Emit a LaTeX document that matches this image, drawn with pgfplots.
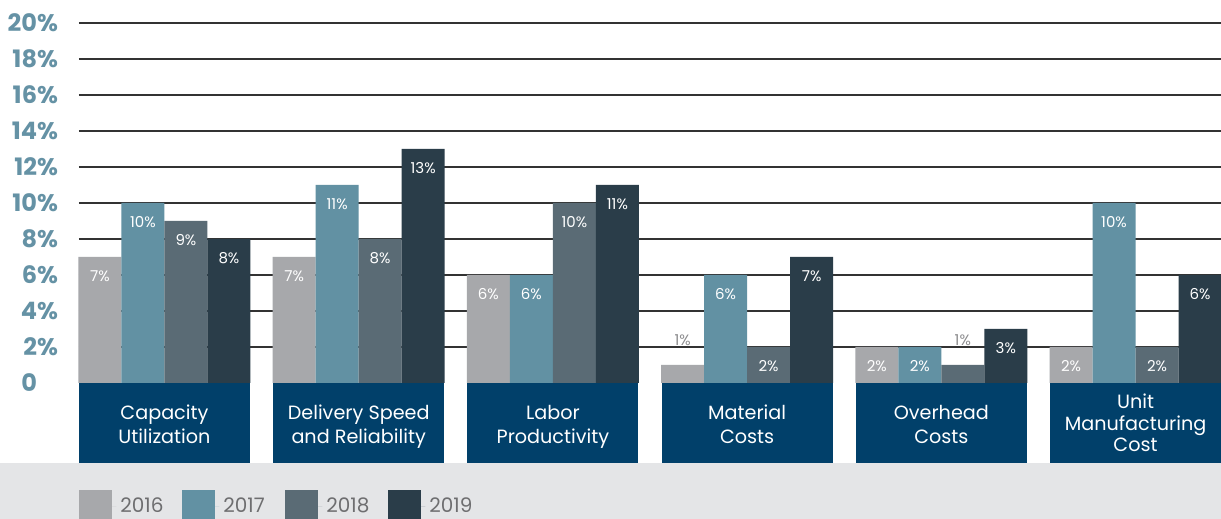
\documentclass[border=0pt]{standalone}
\usepackage{pgfplots}
\pgfplotsset{compat=1.18}
\usepackage{fontspec}
\setmainfont{Poppins}
\definecolor{cA}{RGB}{167,168,171}
\definecolor{cB}{RGB}{98,145,163}
\definecolor{cC}{RGB}{90,107,117}
\definecolor{cD}{RGB}{42,61,73}
\definecolor{navy}{RGB}{1,64,106}
\definecolor{tickcol}{RGB}{101,146,165}
\definecolor{legbg}{RGB}{228,229,231}
\definecolor{legtext}{RGB}{110,110,112}
\definecolor{smalllab}{RGB}{140,140,142}
\pgfplotsset{
  sqlegend/.style={legend image code/.code={\fill[##1] (0pt,-8.25pt) rectangle (16.5pt,8.25pt); \path (0pt,0pt) -- (18.5pt,0pt);}},
  mybar/.style={ybar, bar width=0.2214, draw=none, sqlegend,
    nodes near coords, point meta=explicit symbolic,
    every node near coord/.append style={font=\fontsize{7.5}{8}\selectfont, text=white, anchor=center, yshift=-9.5pt, xshift=#1}},
  smallbar/.style={ybar, bar width=0.2214, draw=none, fill=none, forget plot,
    nodes near coords, point meta=explicit symbolic,
    every node near coord/.append style={font=\fontsize{7.5}{8}\selectfont, text=smalllab, anchor=center, yshift=12.5pt, xshift=#1}}
}
\begin{document}
\begin{tikzpicture}
\useasboundingbox (0,0) rectangle (610.5pt,259.5pt);
\fill[white] (0,0) rectangle (610.5pt,259.5pt);
\fill[legbg] (0,0) rectangle (610.5pt,28pt);
\begin{axis}[
  at={(39.5pt,68pt)}, anchor=south west,
  scale only axis, width=571pt, height=180pt,
  xmin=-0.44, xmax=5.44, ymin=0, ymax=20,
  axis line style={draw=none},
  xtick=\empty,
  ytick={2,4,...,20},
  yticklabel={\pgfmathprintnumber[assume math mode=true]{\tick}\%},
  extra y ticks={0}, extra y tick labels={0\phantom{\%}},
  extra y tick style={grid=none},
  major tick length=0pt,
  ymajorgrids,
  grid style={black!80, line width=0.6pt},
  yticklabel style={font=\fontsize{12}{12}\selectfont\bfseries, text=tickcol, anchor=east, xshift=-7pt},
  clip=false,
  legend style={at={(0,-0.344)}, anchor=west, draw=none, fill=none, inner sep=0pt,
    font=\fontsize{10}{10}\selectfont, text=legtext,
    /tikz/every even column/.append style={column sep=5.0pt}},
  legend columns=4, legend cell align=left,
]
\addplot[mybar=-32.25pt, bar shift=-0.3321, fill=cA] coordinates {(0,7)[7\%] (1,7)[7\%] (2,6)[6\%] (3,1)[] (4,2)[2\%] (5,2)[2\%]};
\addlegendentry{\makebox[24pt][l]{2016}}
\addplot[mybar=-10.75pt, bar shift=-0.1107, fill=cB] coordinates {(0,10)[10\%] (1,11)[11\%] (2,6)[6\%] (3,6)[6\%] (4,2)[2\%] (5,10)[10\%]};
\addlegendentry{\makebox[24pt][l]{2017}}
\addplot[mybar=10.75pt, bar shift=0.1107, fill=cC] coordinates {(0,9)[9\%] (1,8)[8\%] (2,10)[10\%] (3,2)[2\%] (4,1)[] (5,2)[2\%]};
\addlegendentry{\makebox[24pt][l]{2018}}
\addplot[mybar=32.25pt, bar shift=0.3321, fill=cD] coordinates {(0,8)[8\%] (1,13)[13\%] (2,11)[11\%] (3,7)[7\%] (4,3)[3\%] (5,6)[6\%]};
\addlegendentry{\makebox[24pt][l]{2019}}
\addplot[smallbar=-32.25pt, bar shift=-0.3321] coordinates {(3,1)[1\%]};
\addplot[smallbar=10.75pt, bar shift=0.1107] coordinates {(4,1)[1\%]};
\fill[navy] (axis cs:-0.44,0) rectangle (axis cs:0.44,-4.444);
\fill[navy] (axis cs:0.56,0) rectangle (axis cs:1.44,-4.444);
\fill[navy] (axis cs:1.56,0) rectangle (axis cs:2.44,-4.444);
\fill[navy] (axis cs:2.56,0) rectangle (axis cs:3.44,-4.444);
\fill[navy] (axis cs:3.56,0) rectangle (axis cs:4.44,-4.444);
\fill[navy] (axis cs:4.56,0) rectangle (axis cs:5.44,-4.444);
\begin{scope}[every node/.style={text=white, align=center, font=\fontsize{9.6}{12}\selectfont}]
\node at (axis cs:0,-2.45) {\strut Capacity\\Utilization\strut};
\node at (axis cs:1,-2.45) {\strut Delivery Speed\\and Reliability\strut};
\node at (axis cs:2,-2.45) {\strut Labor\\Productivity\strut};
\node at (axis cs:3,-2.45) {\strut Material\\Costs\strut};
\node at (axis cs:4,-2.45) {\strut Overhead\\Costs\strut};
\node[font=\fontsize{9.6}{10.8}\selectfont] at (axis cs:5,-2.39) {\strut Unit\\Manufacturing\\Cost\strut};
\end{scope}
\end{axis}
\end{tikzpicture}
\end{document}
